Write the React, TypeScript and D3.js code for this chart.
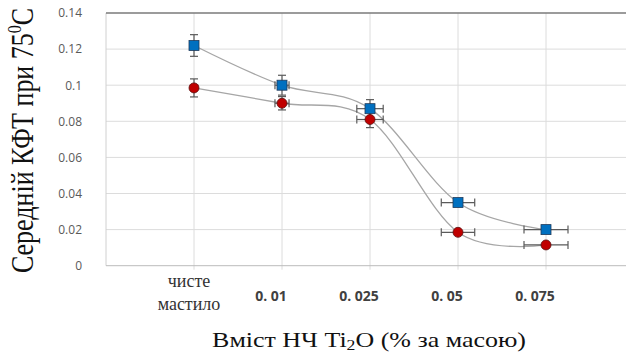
import React, { useEffect, useRef } from 'react'
import * as d3 from 'd3'

// categories on the x axis (position 1..5 of a 0..6 value axis)
const categories = ['чисте мастило', '0. 01', '0. 025', '0. 05', '0. 075']
const blueValues = [0.122, 0.1, 0.087, 0.035, 0.02]
const redValues = [0.0985, 0.09, 0.081, 0.0185, 0.0115]
const blueYErr = [0.006, 0.0055, 0.005, 0, 0]
const redYErr = [0.005, 0.0037, 0.0045, 0, 0]
const xErr = [0, 0.08, 0.15, 0.19, 0.25]
const yTicks = [0, 0.02, 0.04, 0.06, 0.08, 0.1, 0.12, 0.14]

const SERIF = 'Liberation Serif'

const App = () => {
  const svgRef = useRef(null)

  useEffect(() => {
    if (!svgRef.current) return
    const svg = d3.select(svgRef.current)
    svg.selectAll('*').remove()

    const width = 626
    const height = 353
    const margin = { top: 13, left: 106, bottom: 265.7, right: 634 }

    svg.attr('width', width).attr('height', height)

    const x = d3.scaleLinear().domain([0, 6]).range([margin.left, margin.right])
    const y = d3.scaleLinear().domain([0, 0.14]).range([margin.bottom, margin.top])

    const idx = categories.map((_, i) => i + 1)

    // horizontal gridlines
    svg
      .append('g')
      .selectAll('line')
      .data(yTicks.slice(1, -1))
      .join('line')
      .attr('x1', margin.left)
      .attr('x2', width)
      .attr('y1', (d) => y(d))
      .attr('y2', (d) => y(d))
      .attr('stroke', '#dcdcdc')
      .attr('stroke-width', 1)

    // vertical gridlines
    svg
      .append('g')
      .selectAll('line')
      .data(idx)
      .join('line')
      .attr('x1', (d) => x(d))
      .attr('x2', (d) => x(d))
      .attr('y1', margin.top)
      .attr('y2', margin.bottom + 4)
      .attr('stroke', '#dcdcdc')
      .attr('stroke-width', 1)

    // left axis line
    svg
      .append('line')
      .attr('x1', margin.left)
      .attr('x2', margin.left)
      .attr('y1', margin.top)
      .attr('y2', margin.bottom)
      .attr('stroke', '#d0d0d0')

    // bottom axis line
    svg
      .append('line')
      .attr('x1', margin.left)
      .attr('x2', width)
      .attr('y1', margin.bottom)
      .attr('y2', margin.bottom)
      .attr('stroke', '#bcbcbc')

    // top border
    svg
      .append('line')
      .attr('x1', margin.left)
      .attr('x2', width)
      .attr('y1', margin.top)
      .attr('y2', margin.top)
      .attr('stroke', '#7a7a7a')
      .attr('stroke-width', 1.6)

    // y tick labels
    svg
      .append('g')
      .selectAll('text')
      .data(yTicks)
      .join('text')
      .attr('x', 82)
      .attr('y', (d) => y(d))
      .attr('dy', '0.36em')
      .attr('text-anchor', 'end')
      .attr('font-family', 'Open Sans, sans-serif')
      .attr('font-size', 12)
      .attr('fill', '#595959')
      .text((d) => String(d))

    // x tick labels
    const xl = svg.append('g')
    categories.forEach((c, i) => {
      if (i === 0) {
        const words = c.split(' ')
        const t = xl
          .append('text')
          .attr('y', 287)
          .attr('text-anchor', 'middle')
          .attr('font-family', SERIF)
          .attr('font-size', 18)
          .attr('fill', '#333')
        t.append('tspan').attr('x', x(i + 1) - 5).text(words[0])
        t.append('tspan').attr('x', x(i + 1) - 5).attr('dy', 23).text(words[1])
      } else {
        xl.append('text')
          .attr('x', x(i + 1) - 11)
          .attr('y', 301)
          .attr('text-anchor', 'middle')
          .attr('font-family', 'Open Sans, sans-serif')
          .attr('font-weight', 'bold')
          .attr('font-size', 14)
          .attr('fill', '#404040')
          .text(c)
      }
    })

    // smooth lines
    const line = d3
      .line<number>()
      .x((_, i) => x(idx[i]))
      .y((d) => y(d))
      .curve(d3.curveCatmullRom.alpha(0))

    ;[blueValues, redValues].forEach((vals) => {
      svg
        .append('path')
        .attr('d', line(vals))
        .attr('fill', 'none')
        .attr('stroke', '#a6a6a6')
        .attr('stroke-width', 1.3)
    })

    // error bars
    const errColor = '#5a5a5a'
    const drawErr = (vals: number[], yErr: number[]) => {
      const g = svg.append('g').attr('stroke', errColor).attr('stroke-width', 1.2)
      vals.forEach((v, i) => {
        const cx = x(idx[i])
        const cy = y(v)
        if (yErr[i] > 0) {
          const y1 = y(v + yErr[i])
          const y2 = y(v - yErr[i])
          g.append('line').attr('x1', cx).attr('x2', cx).attr('y1', y1).attr('y2', y2)
          g.append('line').attr('x1', cx - 4).attr('x2', cx + 4).attr('y1', y1).attr('y2', y1)
          g.append('line').attr('x1', cx - 4).attr('x2', cx + 4).attr('y1', y2).attr('y2', y2)
        }
        if (xErr[i] > 0) {
          const x1 = x(idx[i] - xErr[i])
          const x2 = x(idx[i] + xErr[i])
          g.append('line').attr('x1', x1).attr('x2', x2).attr('y1', cy).attr('y2', cy)
          g.append('line').attr('x1', x1).attr('x2', x1).attr('y1', cy - 4).attr('y2', cy + 4)
          g.append('line').attr('x1', x2).attr('x2', x2).attr('y1', cy - 4).attr('y2', cy + 4)
        }
      })
    }
    drawErr(blueValues, blueYErr)
    drawErr(redValues, redYErr)

    // markers
    svg
      .append('g')
      .selectAll('rect')
      .data(blueValues)
      .join('rect')
      .attr('x', (_, i) => x(idx[i]) - 5)
      .attr('y', (d) => y(d) - 5)
      .attr('width', 10)
      .attr('height', 10)
      .attr('fill', '#0070c0')
      .attr('stroke', '#1f3a5a')
      .attr('stroke-width', 0.8)

    svg
      .append('g')
      .selectAll('circle')
      .data(redValues)
      .join('circle')
      .attr('cx', (_, i) => x(idx[i]))
      .attr('cy', (d) => y(d))
      .attr('r', 5)
      .attr('fill', '#c00000')
      .attr('stroke', '#5a1010')
      .attr('stroke-width', 0.8)

    // axis titles (the source picture is stretched horizontally)
    const xt = svg
      .append('text')
      .attr('transform', 'translate(369,347) scale(1.18,1)')
      .attr('text-anchor', 'middle')
      .attr('font-family', SERIF)
      .attr('font-size', 22)
      .attr('fill', '#111')
    xt.append('tspan').text('Вміст НЧ Ti')
    xt.append('tspan').attr('font-size', 15).attr('dy', 3).text('2')
    xt.append('tspan').attr('dy', -3).text('O (% за масою)')

    const yt = svg
      .append('text')
      .attr('transform', 'translate(33,140.5) scale(1.2,1) rotate(-90)')
      .attr('text-anchor', 'middle')
      .attr('font-family', SERIF)
      .attr('font-size', 26)
      .attr('fill', '#111')
    yt.append('tspan').text('Середній КФТ при 75')
    yt.append('tspan').attr('font-size', 16).attr('dy', -10).text('0')
    yt.append('tspan').attr('dy', 10).text('C')
  }, [])

  return (
    <div style={{ position: 'absolute', left: 0, top: 0 }}>
      <svg ref={svgRef}></svg>
    </div>
  )
}

export default App
